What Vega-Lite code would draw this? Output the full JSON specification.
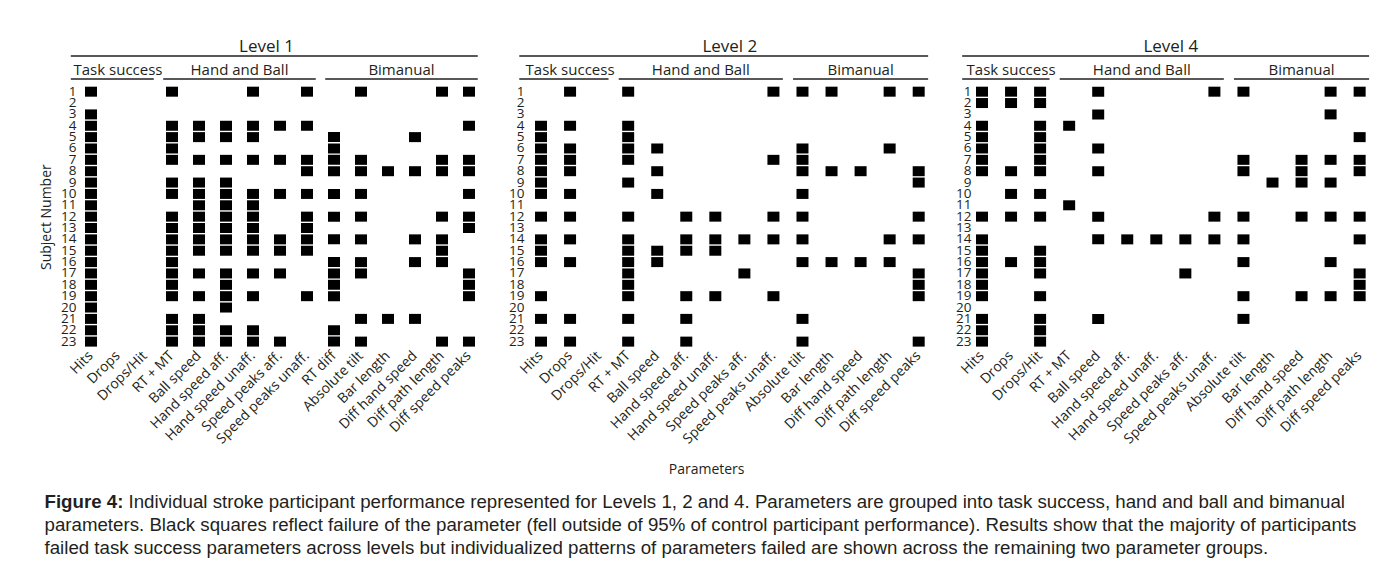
{
  "$schema": "https://vega.github.io/schema/vega-lite/v6.json",
  "background": "white",
  "padding": {"left": 39, "top": 38, "right": 20, "bottom": 12},
  "config": {
    "view": {"stroke": null},
    "font": "Open Sans",
    "axis": {"domain": false, "ticks": false, "grid": false, "labelColor": "#231f20", "titleColor": "#231f20", "labelFont": "Open Sans", "titleFont": "Open Sans", "titleFontWeight": "normal"},
    "text": {"font": "Open Sans", "color": "#231f20"}
  },
  "datasets": {
    "level1": [
      {"subject":1,"parameter":"Hits"},{"subject":1,"parameter":"RT + MT"},{"subject":1,"parameter":"Hand speed unaff."},{"subject":1,"parameter":"Speed peaks unaff."},{"subject":1,"parameter":"Absolute tilt"},{"subject":1,"parameter":"Diff path length"},{"subject":1,"parameter":"Diff speed peaks"},
      {"subject":3,"parameter":"Hits"},
      {"subject":4,"parameter":"Hits"},{"subject":4,"parameter":"RT + MT"},{"subject":4,"parameter":"Ball speed"},{"subject":4,"parameter":"Hand speed aff."},{"subject":4,"parameter":"Hand speed unaff."},{"subject":4,"parameter":"Speed peaks aff."},{"subject":4,"parameter":"Speed peaks unaff."},{"subject":4,"parameter":"Diff speed peaks"},
      {"subject":5,"parameter":"Hits"},{"subject":5,"parameter":"RT + MT"},{"subject":5,"parameter":"Ball speed"},{"subject":5,"parameter":"Hand speed aff."},{"subject":5,"parameter":"Hand speed unaff."},{"subject":5,"parameter":"RT diff"},{"subject":5,"parameter":"Diff hand speed"},
      {"subject":6,"parameter":"Hits"},{"subject":6,"parameter":"RT + MT"},{"subject":6,"parameter":"RT diff"},
      {"subject":7,"parameter":"Hits"},{"subject":7,"parameter":"RT + MT"},{"subject":7,"parameter":"Ball speed"},{"subject":7,"parameter":"Hand speed aff."},{"subject":7,"parameter":"Hand speed unaff."},{"subject":7,"parameter":"Speed peaks aff."},{"subject":7,"parameter":"Speed peaks unaff."},{"subject":7,"parameter":"RT diff"},{"subject":7,"parameter":"Absolute tilt"},{"subject":7,"parameter":"Diff path length"},{"subject":7,"parameter":"Diff speed peaks"},
      {"subject":8,"parameter":"Hits"},{"subject":8,"parameter":"Speed peaks unaff."},{"subject":8,"parameter":"RT diff"},{"subject":8,"parameter":"Absolute tilt"},{"subject":8,"parameter":"Bar length"},{"subject":8,"parameter":"Diff hand speed"},{"subject":8,"parameter":"Diff path length"},{"subject":8,"parameter":"Diff speed peaks"},
      {"subject":9,"parameter":"Hits"},{"subject":9,"parameter":"RT + MT"},{"subject":9,"parameter":"Ball speed"},{"subject":9,"parameter":"Hand speed aff."},
      {"subject":10,"parameter":"Hits"},{"subject":10,"parameter":"RT + MT"},{"subject":10,"parameter":"Ball speed"},{"subject":10,"parameter":"Hand speed aff."},{"subject":10,"parameter":"Hand speed unaff."},{"subject":10,"parameter":"Speed peaks aff."},{"subject":10,"parameter":"Speed peaks unaff."},{"subject":10,"parameter":"RT diff"},{"subject":10,"parameter":"Absolute tilt"},{"subject":10,"parameter":"Diff speed peaks"},
      {"subject":11,"parameter":"Hits"},{"subject":11,"parameter":"Ball speed"},{"subject":11,"parameter":"Hand speed aff."},{"subject":11,"parameter":"Hand speed unaff."},
      {"subject":12,"parameter":"Hits"},{"subject":12,"parameter":"RT + MT"},{"subject":12,"parameter":"Ball speed"},{"subject":12,"parameter":"Hand speed aff."},{"subject":12,"parameter":"Hand speed unaff."},{"subject":12,"parameter":"Speed peaks unaff."},{"subject":12,"parameter":"RT diff"},{"subject":12,"parameter":"Absolute tilt"},{"subject":12,"parameter":"Diff path length"},{"subject":12,"parameter":"Diff speed peaks"},
      {"subject":13,"parameter":"Hits"},{"subject":13,"parameter":"RT + MT"},{"subject":13,"parameter":"Ball speed"},{"subject":13,"parameter":"Hand speed aff."},{"subject":13,"parameter":"Hand speed unaff."},{"subject":13,"parameter":"Speed peaks unaff."},{"subject":13,"parameter":"Diff speed peaks"},
      {"subject":14,"parameter":"Hits"},{"subject":14,"parameter":"RT + MT"},{"subject":14,"parameter":"Ball speed"},{"subject":14,"parameter":"Hand speed aff."},{"subject":14,"parameter":"Hand speed unaff."},{"subject":14,"parameter":"Speed peaks aff."},{"subject":14,"parameter":"Speed peaks unaff."},{"subject":14,"parameter":"RT diff"},{"subject":14,"parameter":"Absolute tilt"},{"subject":14,"parameter":"Diff hand speed"},{"subject":14,"parameter":"Diff path length"},
      {"subject":15,"parameter":"Hits"},{"subject":15,"parameter":"RT + MT"},{"subject":15,"parameter":"Ball speed"},{"subject":15,"parameter":"Hand speed aff."},{"subject":15,"parameter":"Hand speed unaff."},{"subject":15,"parameter":"Speed peaks aff."},{"subject":15,"parameter":"Speed peaks unaff."},{"subject":15,"parameter":"Diff path length"},
      {"subject":16,"parameter":"Hits"},{"subject":16,"parameter":"RT + MT"},{"subject":16,"parameter":"RT diff"},{"subject":16,"parameter":"Absolute tilt"},{"subject":16,"parameter":"Diff hand speed"},{"subject":16,"parameter":"Diff path length"},
      {"subject":17,"parameter":"Hits"},{"subject":17,"parameter":"RT + MT"},{"subject":17,"parameter":"Ball speed"},{"subject":17,"parameter":"Hand speed aff."},{"subject":17,"parameter":"Hand speed unaff."},{"subject":17,"parameter":"Speed peaks aff."},{"subject":17,"parameter":"RT diff"},{"subject":17,"parameter":"Absolute tilt"},{"subject":17,"parameter":"Diff speed peaks"},
      {"subject":18,"parameter":"Hits"},{"subject":18,"parameter":"RT + MT"},{"subject":18,"parameter":"Hand speed aff."},{"subject":18,"parameter":"RT diff"},{"subject":18,"parameter":"Diff speed peaks"},
      {"subject":19,"parameter":"Hits"},{"subject":19,"parameter":"RT + MT"},{"subject":19,"parameter":"Ball speed"},{"subject":19,"parameter":"Hand speed aff."},{"subject":19,"parameter":"Hand speed unaff."},{"subject":19,"parameter":"Speed peaks unaff."},{"subject":19,"parameter":"RT diff"},{"subject":19,"parameter":"Diff speed peaks"},
      {"subject":20,"parameter":"Hits"},{"subject":20,"parameter":"Hand speed aff."},
      {"subject":21,"parameter":"Hits"},{"subject":21,"parameter":"RT + MT"},{"subject":21,"parameter":"Ball speed"},{"subject":21,"parameter":"Absolute tilt"},{"subject":21,"parameter":"Bar length"},{"subject":21,"parameter":"Diff hand speed"},
      {"subject":22,"parameter":"Hits"},{"subject":22,"parameter":"RT + MT"},{"subject":22,"parameter":"Ball speed"},{"subject":22,"parameter":"Hand speed aff."},{"subject":22,"parameter":"Hand speed unaff."},{"subject":22,"parameter":"RT diff"},
      {"subject":23,"parameter":"Hits"},{"subject":23,"parameter":"RT + MT"},{"subject":23,"parameter":"Ball speed"},{"subject":23,"parameter":"Hand speed aff."},{"subject":23,"parameter":"Hand speed unaff."},{"subject":23,"parameter":"Speed peaks aff."},{"subject":23,"parameter":"RT diff"},{"subject":23,"parameter":"Absolute tilt"},{"subject":23,"parameter":"Diff path length"},{"subject":23,"parameter":"Diff speed peaks"}
    ],
    "level2": [
      {"subject":1,"parameter":"Drops"},{"subject":1,"parameter":"RT + MT"},{"subject":1,"parameter":"Speed peaks unaff."},{"subject":1,"parameter":"Absolute tilt"},{"subject":1,"parameter":"Bar length"},{"subject":1,"parameter":"Diff path length"},{"subject":1,"parameter":"Diff speed peaks"},
      {"subject":4,"parameter":"Hits"},{"subject":4,"parameter":"Drops"},{"subject":4,"parameter":"RT + MT"},
      {"subject":5,"parameter":"Hits"},{"subject":5,"parameter":"RT + MT"},
      {"subject":6,"parameter":"Hits"},{"subject":6,"parameter":"Drops"},{"subject":6,"parameter":"RT + MT"},{"subject":6,"parameter":"Ball speed"},{"subject":6,"parameter":"Absolute tilt"},{"subject":6,"parameter":"Diff path length"},
      {"subject":7,"parameter":"Hits"},{"subject":7,"parameter":"Drops"},{"subject":7,"parameter":"RT + MT"},{"subject":7,"parameter":"Speed peaks unaff."},{"subject":7,"parameter":"Absolute tilt"},
      {"subject":8,"parameter":"Hits"},{"subject":8,"parameter":"Drops"},{"subject":8,"parameter":"Ball speed"},{"subject":8,"parameter":"Absolute tilt"},{"subject":8,"parameter":"Bar length"},{"subject":8,"parameter":"Diff hand speed"},{"subject":8,"parameter":"Diff speed peaks"},
      {"subject":9,"parameter":"Hits"},{"subject":9,"parameter":"RT + MT"},{"subject":9,"parameter":"Diff speed peaks"},
      {"subject":10,"parameter":"Hits"},{"subject":10,"parameter":"Drops"},{"subject":10,"parameter":"Ball speed"},{"subject":10,"parameter":"Absolute tilt"},
      {"subject":12,"parameter":"Hits"},{"subject":12,"parameter":"Drops"},{"subject":12,"parameter":"RT + MT"},{"subject":12,"parameter":"Hand speed aff."},{"subject":12,"parameter":"Hand speed unaff."},{"subject":12,"parameter":"Speed peaks unaff."},{"subject":12,"parameter":"Absolute tilt"},{"subject":12,"parameter":"Diff speed peaks"},
      {"subject":14,"parameter":"Hits"},{"subject":14,"parameter":"Drops"},{"subject":14,"parameter":"RT + MT"},{"subject":14,"parameter":"Hand speed aff."},{"subject":14,"parameter":"Hand speed unaff."},{"subject":14,"parameter":"Speed peaks aff."},{"subject":14,"parameter":"Speed peaks unaff."},{"subject":14,"parameter":"Absolute tilt"},{"subject":14,"parameter":"Diff path length"},{"subject":14,"parameter":"Diff speed peaks"},
      {"subject":15,"parameter":"Hits"},{"subject":15,"parameter":"RT + MT"},{"subject":15,"parameter":"Ball speed"},{"subject":15,"parameter":"Hand speed aff."},{"subject":15,"parameter":"Hand speed unaff."},
      {"subject":16,"parameter":"Hits"},{"subject":16,"parameter":"Drops"},{"subject":16,"parameter":"RT + MT"},{"subject":16,"parameter":"Ball speed"},{"subject":16,"parameter":"Absolute tilt"},{"subject":16,"parameter":"Bar length"},{"subject":16,"parameter":"Diff hand speed"},{"subject":16,"parameter":"Diff path length"},
      {"subject":17,"parameter":"RT + MT"},{"subject":17,"parameter":"Speed peaks aff."},{"subject":17,"parameter":"Diff speed peaks"},
      {"subject":18,"parameter":"RT + MT"},{"subject":18,"parameter":"Diff speed peaks"},
      {"subject":19,"parameter":"Hits"},{"subject":19,"parameter":"RT + MT"},{"subject":19,"parameter":"Hand speed aff."},{"subject":19,"parameter":"Hand speed unaff."},{"subject":19,"parameter":"Speed peaks unaff."},{"subject":19,"parameter":"Diff speed peaks"},
      {"subject":21,"parameter":"Hits"},{"subject":21,"parameter":"Drops"},{"subject":21,"parameter":"RT + MT"},{"subject":21,"parameter":"Hand speed aff."},{"subject":21,"parameter":"Absolute tilt"},
      {"subject":23,"parameter":"Hits"},{"subject":23,"parameter":"Drops"},{"subject":23,"parameter":"RT + MT"},{"subject":23,"parameter":"Hand speed aff."},{"subject":23,"parameter":"Absolute tilt"},{"subject":23,"parameter":"Diff speed peaks"}
    ],
    "level4": [
      {"subject":1,"parameter":"Hits"},{"subject":1,"parameter":"Drops"},{"subject":1,"parameter":"Drops/Hit"},{"subject":1,"parameter":"Ball speed"},{"subject":1,"parameter":"Speed peaks unaff."},{"subject":1,"parameter":"Absolute tilt"},{"subject":1,"parameter":"Diff path length"},{"subject":1,"parameter":"Diff speed peaks"},
      {"subject":2,"parameter":"Hits"},{"subject":2,"parameter":"Drops"},{"subject":2,"parameter":"Drops/Hit"},
      {"subject":3,"parameter":"Ball speed"},{"subject":3,"parameter":"Diff path length"},
      {"subject":4,"parameter":"Hits"},{"subject":4,"parameter":"Drops/Hit"},{"subject":4,"parameter":"RT + MT"},
      {"subject":5,"parameter":"Hits"},{"subject":5,"parameter":"Drops/Hit"},{"subject":5,"parameter":"Diff speed peaks"},
      {"subject":6,"parameter":"Hits"},{"subject":6,"parameter":"Drops/Hit"},{"subject":6,"parameter":"Ball speed"},
      {"subject":7,"parameter":"Hits"},{"subject":7,"parameter":"Drops/Hit"},{"subject":7,"parameter":"Absolute tilt"},{"subject":7,"parameter":"Diff hand speed"},{"subject":7,"parameter":"Diff path length"},{"subject":7,"parameter":"Diff speed peaks"},
      {"subject":8,"parameter":"Hits"},{"subject":8,"parameter":"Drops"},{"subject":8,"parameter":"Drops/Hit"},{"subject":8,"parameter":"Ball speed"},{"subject":8,"parameter":"Absolute tilt"},{"subject":8,"parameter":"Diff hand speed"},{"subject":8,"parameter":"Diff speed peaks"},
      {"subject":9,"parameter":"Bar length"},{"subject":9,"parameter":"Diff hand speed"},{"subject":9,"parameter":"Diff path length"},
      {"subject":10,"parameter":"Drops"},{"subject":10,"parameter":"Drops/Hit"},
      {"subject":11,"parameter":"RT + MT"},
      {"subject":12,"parameter":"Hits"},{"subject":12,"parameter":"Drops"},{"subject":12,"parameter":"Drops/Hit"},{"subject":12,"parameter":"Ball speed"},{"subject":12,"parameter":"Speed peaks unaff."},{"subject":12,"parameter":"Absolute tilt"},{"subject":12,"parameter":"Diff hand speed"},{"subject":12,"parameter":"Diff path length"},{"subject":12,"parameter":"Diff speed peaks"},
      {"subject":14,"parameter":"Hits"},{"subject":14,"parameter":"Ball speed"},{"subject":14,"parameter":"Hand speed aff."},{"subject":14,"parameter":"Hand speed unaff."},{"subject":14,"parameter":"Speed peaks aff."},{"subject":14,"parameter":"Speed peaks unaff."},{"subject":14,"parameter":"Absolute tilt"},{"subject":14,"parameter":"Diff speed peaks"},
      {"subject":15,"parameter":"Hits"},{"subject":15,"parameter":"Drops/Hit"},
      {"subject":16,"parameter":"Hits"},{"subject":16,"parameter":"Drops"},{"subject":16,"parameter":"Drops/Hit"},{"subject":16,"parameter":"Absolute tilt"},{"subject":16,"parameter":"Diff path length"},
      {"subject":17,"parameter":"Hits"},{"subject":17,"parameter":"Drops/Hit"},{"subject":17,"parameter":"Speed peaks aff."},{"subject":17,"parameter":"Diff speed peaks"},
      {"subject":18,"parameter":"Hits"},{"subject":18,"parameter":"Diff speed peaks"},
      {"subject":19,"parameter":"Hits"},{"subject":19,"parameter":"Drops/Hit"},{"subject":19,"parameter":"Absolute tilt"},{"subject":19,"parameter":"Diff hand speed"},{"subject":19,"parameter":"Diff path length"},{"subject":19,"parameter":"Diff speed peaks"},
      {"subject":21,"parameter":"Hits"},{"subject":21,"parameter":"Drops/Hit"},{"subject":21,"parameter":"Ball speed"},{"subject":21,"parameter":"Absolute tilt"},
      {"subject":22,"parameter":"Hits"},{"subject":22,"parameter":"Drops/Hit"},
      {"subject":23,"parameter":"Hits"},{"subject":23,"parameter":"Drops/Hit"}
    ]
  },
  "vconcat": [
    {
      "hconcat": [
        {
          "spacing": 0,
          "resolve": {"scale": {"x": "shared"}},
          "vconcat": [
            {
              "width": 406, "height": 33,
              "data": {"values": [
                {"tier":"level","label":"Level 1","first":"Hits","last":"Diff speed peaks","mid":"Hand speed unaff.","between":true},
                {"tier":"group","label":"Task success","first":"Hits","last":"Drops/Hit","mid":"Drops","between":false},
                {"tier":"group","label":"Hand and Ball","first":"RT + MT","last":"Speed peaks unaff.","mid":"Hand speed aff.","between":true},
                {"tier":"group","label":"Bimanual","first":"RT diff","last":"Diff speed peaks","mid":"Bar length","between":true}
              ]},
              "encoding": {"y": {"field":"tier","type":"nominal","scale":{"type":"point","domain":["level","group"],"padding":0.22},"axis":null}},
              "layer": [
                {"transform":[{"filter":"datum.first == 'Hits'"}],
                 "mark":{"type":"rule","color":"#231f20","strokeWidth":1.5},
                 "encoding":{"x":{"field":"first","type":"nominal","bandPosition":-0.65,"scale":{"type":"band","domain":["Hits","Drops","Drops/Hit","RT + MT","Ball speed","Hand speed aff.","Hand speed unaff.","Speed peaks aff.","Speed peaks unaff.","RT diff","Absolute tilt","Bar length","Diff hand speed","Diff path length","Diff speed peaks"],"paddingInner":0.35,"paddingOuter":0.1935,"align":0.5},"axis":null},"x2":{"field":"last","bandPosition":1}}},
                {"transform":[{"filter":"datum.first != 'Hits'"}],
                 "mark":{"type":"rule","color":"#231f20","strokeWidth":1.5},
                 "encoding":{"x":{"field":"first","type":"nominal","bandPosition":0,"scale":{"type":"band","domain":["Hits","Drops","Drops/Hit","RT + MT","Ball speed","Hand speed aff.","Hand speed unaff.","Speed peaks aff.","Speed peaks unaff.","RT diff","Absolute tilt","Bar length","Diff hand speed","Diff path length","Diff speed peaks"],"paddingInner":0.35,"paddingOuter":0.1935,"align":0.5},"axis":null},"x2":{"field":"last","bandPosition":1}}},
                {"transform":[{"filter":"datum.tier == 'level'"}],
                 "mark":{"type":"text","fontSize":17,"baseline":"alphabetic","dy":-4},
                 "encoding":{"x":{"field":"mid","type":"nominal","bandPosition":1.269,"scale":{"type":"band","domain":["Hits","Drops","Drops/Hit","RT + MT","Ball speed","Hand speed aff.","Hand speed unaff.","Speed peaks aff.","Speed peaks unaff.","RT diff","Absolute tilt","Bar length","Diff hand speed","Diff path length","Diff speed peaks"],"paddingInner":0.35,"paddingOuter":0.1935,"align":0.5},"axis":null},"text":{"field":"label"}}},
                {"transform":[{"filter":"datum.tier == 'group' && !datum.between"}],
                 "mark":{"type":"text","fontSize":15,"baseline":"alphabetic","dy":-4},
                 "encoding":{"x":{"field":"mid","type":"nominal","bandPosition":0.5,"scale":{"type":"band","domain":["Hits","Drops","Drops/Hit","RT + MT","Ball speed","Hand speed aff.","Hand speed unaff.","Speed peaks aff.","Speed peaks unaff.","RT diff","Absolute tilt","Bar length","Diff hand speed","Diff path length","Diff speed peaks"],"paddingInner":0.35,"paddingOuter":0.1935,"align":0.5},"axis":null},"text":{"field":"label"}}},
                {"transform":[{"filter":"datum.tier == 'group' && datum.between"}],
                 "mark":{"type":"text","fontSize":15,"baseline":"alphabetic","dy":-4},
                 "encoding":{"x":{"field":"mid","type":"nominal","bandPosition":1.269,"scale":{"type":"band","domain":["Hits","Drops","Drops/Hit","RT + MT","Ball speed","Hand speed aff.","Hand speed unaff.","Speed peaks aff.","Speed peaks unaff.","RT diff","Absolute tilt","Bar length","Diff hand speed","Diff path length","Diff speed peaks"],"paddingInner":0.35,"paddingOuter":0.1935,"align":0.5},"axis":null},"text":{"field":"label"}}}
              ]
            },
            {
              "width": 406, "height": 261.3,
              "data": {"name": "level1"},
              "mark": {"type":"rect","width":12,"height":10,"color":"#000000"},
              "encoding": {
                "x": {"field":"parameter","type":"nominal","scale":{"type":"band","domain":["Hits","Drops","Drops/Hit","RT + MT","Ball speed","Hand speed aff.","Hand speed unaff.","Speed peaks aff.","Speed peaks unaff.","RT diff","Absolute tilt","Bar length","Diff hand speed","Diff path length","Diff speed peaks"],"paddingInner":0.35,"paddingOuter":0.1935,"align":0.5},
                      "axis":{"title":null,"labelAngle":-45,"labelAlign":"right","labelBaseline":"middle","labelPadding":6,"labelFontSize":14,"labelOverlap":false}},
                "y": {"field":"subject","type":"ordinal","scale":{"domain":[1,2,3,4,5,6,7,8,9,10,11,12,13,14,15,16,17,18,19,20,21,22,23],"paddingInner":0,"paddingOuter":0},
                      "axis":{"title":"Subject Number","titleFontSize":14,"titlePadding":7,"labelFontSize":13.5,"labelPadding":1,"labelOverlap":false}}
              }
            }
          ]
        },
        {
          "spacing": 0,
          "resolve": {"scale": {"x": "shared"}},
          "vconcat": [
            {
              "width": 405, "height": 33,
              "data": {"values": [
                {"tier":"level","label":"Level 2","first":"Hits","last":"Diff speed peaks","mid":"Hand speed unaff.","between":true},
                {"tier":"group","label":"Task success","first":"Hits","last":"Drops/Hit","mid":"Drops","between":false},
                {"tier":"group","label":"Hand and Ball","first":"RT + MT","last":"Speed peaks unaff.","mid":"Hand speed aff.","between":true},
                {"tier":"group","label":"Bimanual","first":"Absolute tilt","last":"Diff speed peaks","mid":"Diff hand speed","between":false}
              ]},
              "encoding": {"y": {"field":"tier","type":"nominal","scale":{"type":"point","domain":["level","group"],"padding":0.22},"axis":null}},
              "layer": [
                {"transform":[{"filter":"datum.first == 'Hits'"}],
                 "mark":{"type":"rule","color":"#231f20","strokeWidth":1.5},
                 "encoding":{"x":{"field":"first","type":"nominal","bandPosition":-0.65,"scale":{"type":"band","domain":["Hits","Drops","Drops/Hit","RT + MT","Ball speed","Hand speed aff.","Hand speed unaff.","Speed peaks aff.","Speed peaks unaff.","Absolute tilt","Bar length","Diff hand speed","Diff path length","Diff speed peaks"],"paddingInner":0.35,"paddingOuter":0.145,"align":0.779},"axis":null},"x2":{"field":"last","bandPosition":1}}},
                {"transform":[{"filter":"datum.first != 'Hits'"}],
                 "mark":{"type":"rule","color":"#231f20","strokeWidth":1.5},
                 "encoding":{"x":{"field":"first","type":"nominal","bandPosition":0,"scale":{"type":"band","domain":["Hits","Drops","Drops/Hit","RT + MT","Ball speed","Hand speed aff.","Hand speed unaff.","Speed peaks aff.","Speed peaks unaff.","Absolute tilt","Bar length","Diff hand speed","Diff path length","Diff speed peaks"],"paddingInner":0.35,"paddingOuter":0.145,"align":0.779},"axis":null},"x2":{"field":"last","bandPosition":1}}},
                {"transform":[{"filter":"datum.tier == 'level'"}],
                 "mark":{"type":"text","fontSize":17,"baseline":"alphabetic","dy":-4},
                 "encoding":{"x":{"field":"mid","type":"nominal","bandPosition":1.269,"scale":{"type":"band","domain":["Hits","Drops","Drops/Hit","RT + MT","Ball speed","Hand speed aff.","Hand speed unaff.","Speed peaks aff.","Speed peaks unaff.","Absolute tilt","Bar length","Diff hand speed","Diff path length","Diff speed peaks"],"paddingInner":0.35,"paddingOuter":0.145,"align":0.779},"axis":null},"text":{"field":"label"}}},
                {"transform":[{"filter":"datum.tier == 'group' && !datum.between"}],
                 "mark":{"type":"text","fontSize":15,"baseline":"alphabetic","dy":-4},
                 "encoding":{"x":{"field":"mid","type":"nominal","bandPosition":0.5,"scale":{"type":"band","domain":["Hits","Drops","Drops/Hit","RT + MT","Ball speed","Hand speed aff.","Hand speed unaff.","Speed peaks aff.","Speed peaks unaff.","Absolute tilt","Bar length","Diff hand speed","Diff path length","Diff speed peaks"],"paddingInner":0.35,"paddingOuter":0.145,"align":0.779},"axis":null},"text":{"field":"label"}}},
                {"transform":[{"filter":"datum.tier == 'group' && datum.between"}],
                 "mark":{"type":"text","fontSize":15,"baseline":"alphabetic","dy":-4},
                 "encoding":{"x":{"field":"mid","type":"nominal","bandPosition":1.269,"scale":{"type":"band","domain":["Hits","Drops","Drops/Hit","RT + MT","Ball speed","Hand speed aff.","Hand speed unaff.","Speed peaks aff.","Speed peaks unaff.","Absolute tilt","Bar length","Diff hand speed","Diff path length","Diff speed peaks"],"paddingInner":0.35,"paddingOuter":0.145,"align":0.779},"axis":null},"text":{"field":"label"}}}
              ]
            },
            {
              "width": 405, "height": 261.3,
              "data": {"name": "level2"},
              "mark": {"type":"rect","width":12,"height":10,"color":"#000000"},
              "encoding": {
                "x": {"field":"parameter","type":"nominal","scale":{"type":"band","domain":["Hits","Drops","Drops/Hit","RT + MT","Ball speed","Hand speed aff.","Hand speed unaff.","Speed peaks aff.","Speed peaks unaff.","Absolute tilt","Bar length","Diff hand speed","Diff path length","Diff speed peaks"],"paddingInner":0.35,"paddingOuter":0.145,"align":0.779},
                      "axis":{"title":null,"labelAngle":-45,"labelAlign":"right","labelBaseline":"middle","labelPadding":6,"labelFontSize":14,"labelOverlap":false}},
                "y": {"field":"subject","type":"ordinal","scale":{"domain":[1,2,3,4,5,6,7,8,9,10,11,12,13,14,15,16,17,18,19,20,21,22,23],"paddingInner":0,"paddingOuter":0},
                      "axis":{"title":null,"labelFontSize":13.5,"labelPadding":1,"labelOverlap":false}}
              }
            }
          ]
        },
        {
          "spacing": 0,
          "resolve": {"scale": {"x": "shared"}},
          "vconcat": [
            {
              "width": 401.65, "height": 33,
              "data": {"values": [
                {"tier":"level","label":"Level 4","first":"Hits","last":"Diff speed peaks","mid":"Hand speed unaff.","between":true},
                {"tier":"group","label":"Task success","first":"Hits","last":"Drops/Hit","mid":"Drops","between":false},
                {"tier":"group","label":"Hand and Ball","first":"RT + MT","last":"Speed peaks unaff.","mid":"Hand speed aff.","between":true},
                {"tier":"group","label":"Bimanual","first":"Absolute tilt","last":"Diff speed peaks","mid":"Diff hand speed","between":false}
              ]},
              "encoding": {"y": {"field":"tier","type":"nominal","scale":{"type":"point","domain":["level","group"],"padding":0.22},"axis":null}},
              "layer": [
                {"transform":[{"filter":"datum.first == 'Hits'"}],
                 "mark":{"type":"rule","color":"#231f20","strokeWidth":1.5},
                 "encoding":{"x":{"field":"first","type":"nominal","bandPosition":-0.55,"scale":{"type":"band","domain":["Hits","Drops","Drops/Hit","RT + MT","Ball speed","Hand speed aff.","Hand speed unaff.","Speed peaks aff.","Speed peaks unaff.","Absolute tilt","Bar length","Diff hand speed","Diff path length","Diff speed peaks"],"paddingInner":0.35,"paddingOuter":0.0881,"align":0.109},"axis":null},"x2":{"field":"last","bandPosition":1}}},
                {"transform":[{"filter":"datum.first != 'Hits'"}],
                 "mark":{"type":"rule","color":"#231f20","strokeWidth":1.5},
                 "encoding":{"x":{"field":"first","type":"nominal","bandPosition":0,"scale":{"type":"band","domain":["Hits","Drops","Drops/Hit","RT + MT","Ball speed","Hand speed aff.","Hand speed unaff.","Speed peaks aff.","Speed peaks unaff.","Absolute tilt","Bar length","Diff hand speed","Diff path length","Diff speed peaks"],"paddingInner":0.35,"paddingOuter":0.0881,"align":0.109},"axis":null},"x2":{"field":"last","bandPosition":1}}},
                {"transform":[{"filter":"datum.tier == 'level'"}],
                 "mark":{"type":"text","fontSize":17,"baseline":"alphabetic","dy":-4},
                 "encoding":{"x":{"field":"mid","type":"nominal","bandPosition":1.269,"scale":{"type":"band","domain":["Hits","Drops","Drops/Hit","RT + MT","Ball speed","Hand speed aff.","Hand speed unaff.","Speed peaks aff.","Speed peaks unaff.","Absolute tilt","Bar length","Diff hand speed","Diff path length","Diff speed peaks"],"paddingInner":0.35,"paddingOuter":0.0881,"align":0.109},"axis":null},"text":{"field":"label"}}},
                {"transform":[{"filter":"datum.tier == 'group' && !datum.between"}],
                 "mark":{"type":"text","fontSize":15,"baseline":"alphabetic","dy":-4},
                 "encoding":{"x":{"field":"mid","type":"nominal","bandPosition":0.5,"scale":{"type":"band","domain":["Hits","Drops","Drops/Hit","RT + MT","Ball speed","Hand speed aff.","Hand speed unaff.","Speed peaks aff.","Speed peaks unaff.","Absolute tilt","Bar length","Diff hand speed","Diff path length","Diff speed peaks"],"paddingInner":0.35,"paddingOuter":0.0881,"align":0.109},"axis":null},"text":{"field":"label"}}},
                {"transform":[{"filter":"datum.tier == 'group' && datum.between"}],
                 "mark":{"type":"text","fontSize":15,"baseline":"alphabetic","dy":-4},
                 "encoding":{"x":{"field":"mid","type":"nominal","bandPosition":1.269,"scale":{"type":"band","domain":["Hits","Drops","Drops/Hit","RT + MT","Ball speed","Hand speed aff.","Hand speed unaff.","Speed peaks aff.","Speed peaks unaff.","Absolute tilt","Bar length","Diff hand speed","Diff path length","Diff speed peaks"],"paddingInner":0.35,"paddingOuter":0.0881,"align":0.109},"axis":null},"text":{"field":"label"}}}
              ]
            },
            {
              "width": 401.65, "height": 261.3,
              "data": {"name": "level4"},
              "mark": {"type":"rect","width":12,"height":10,"color":"#000000"},
              "encoding": {
                "x": {"field":"parameter","type":"nominal","scale":{"type":"band","domain":["Hits","Drops","Drops/Hit","RT + MT","Ball speed","Hand speed aff.","Hand speed unaff.","Speed peaks aff.","Speed peaks unaff.","Absolute tilt","Bar length","Diff hand speed","Diff path length","Diff speed peaks"],"paddingInner":0.35,"paddingOuter":0.0881,"align":0.109},
                      "axis":{"title":null,"labelAngle":-45,"labelAlign":"right","labelBaseline":"middle","labelPadding":6,"labelFontSize":14,"labelOverlap":false}},
                "y": {"field":"subject","type":"ordinal","scale":{"domain":[1,2,3,4,5,6,7,8,9,10,11,12,13,14,15,16,17,18,19,20,21,22,23],"paddingInner":0,"paddingOuter":0},
                      "axis":{"title":null,"labelFontSize":13.5,"labelPadding":1,"labelOverlap":false}}
              }
            }
          ]
        }
      ],
      "spacing": 25,
      "title": {"text": "Parameters", "orient": "bottom", "anchor": "middle", "fontSize": 14, "fontWeight": "normal", "font": "Open Sans", "color": "#231f20", "offset": 17}
    },
    {
      "width": 1, "height": 46,
      "data": {"values": [
        {"line":1,"part":"lead","text":"Figure 4:"},
        {"line":1,"part":"body","text":"Individual stroke participant performance represented for Levels 1, 2 and 4. Parameters are grouped into task success, hand and ball and bimanual"},
        {"line":2,"part":"body","text":"parameters. Black squares reflect failure of the parameter (fell outside of 95% of control participant performance). Results show that the majority of participants"},
        {"line":3,"part":"body","text":"failed task success parameters across levels but individualized patterns of parameters failed are shown across the remaining two parameter groups."}
      ]},
      "encoding": {
        "y": {"field":"line","type":"ordinal","scale":{"type":"point","padding":0},"axis":null},
        "text": {"field":"text"}
      },
      "layer": [
        {"transform":[{"filter":"datum.part == 'lead'"}],
         "mark":{"type":"text","align":"left","baseline":"middle","font":"Liberation Sans","fontSize":18.7,"fontWeight":"bold","color":"#231f20","dx":-33}},
        {"transform":[{"filter":"datum.part == 'body' && datum.line == 1"}],
         "mark":{"type":"text","align":"left","baseline":"middle","font":"Liberation Sans","fontSize":18.7,"color":"#231f20","dx":51}},
        {"transform":[{"filter":"datum.line > 1"}],
         "mark":{"type":"text","align":"left","baseline":"middle","font":"Liberation Sans","fontSize":18.7,"color":"#231f20","dx":-33}}
      ]
    }
  ],
  "spacing": 16
}
